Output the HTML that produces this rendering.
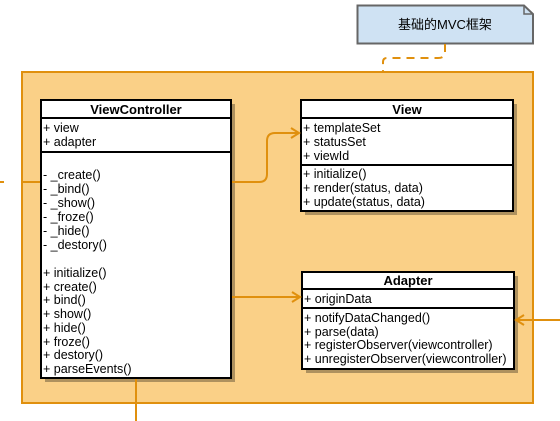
<!DOCTYPE html>
<html><head><meta charset="utf-8"><style>
html,body{margin:0;padding:0;background:#fff;}
svg{display:block;}
text{font-family:"Liberation Sans","Noto Sans CJK SC",sans-serif;font-size:12.5px;fill:#000;}
.h{font-weight:bold;font-size:13px;}
</style></head><body>
<svg width="560" height="421" viewBox="0 0 560 421" xmlns="http://www.w3.org/2000/svg">
<path d="M357.5 5.5 H524 L533 14 V43.5 H357.5 Z" fill="#cfe2f3" stroke="#666" stroke-width="2"/>
<path d="M524 5.5 V14 H533" fill="none" stroke="#666" stroke-width="1.5"/>
<text x="445" y="29" text-anchor="middle" style="font-size:13px">基础的MVC框架</text>
<path d="M445 44 V52 Q445 58 438 58 H387 Q383 58 383 62 V72" fill="none" stroke="#e0900e" stroke-width="2" stroke-dasharray="8,6"/>
<rect x="22" y="72" width="511" height="331" fill="#fad087" stroke="#e0900e" stroke-width="2"/>
<g fill="#000" opacity="0.3">
<rect x="45" y="104" width="190" height="278"/>
<rect x="305" y="104" width="212" height="111"/>
<rect x="306" y="276" width="212" height="97"/>
</g>
<rect x="41" y="100" width="190" height="278" fill="#fff" stroke="#000" stroke-width="2"/>
<line x1="41" y1="118" x2="231" y2="118" stroke="#000" stroke-width="2"/>
<line x1="41" y1="152" x2="231" y2="152" stroke="#000" stroke-width="2"/>
<text class="h" x="136" y="114" text-anchor="middle">ViewController</text>
<g>
<text x="43" y="132">+ view</text>
<text x="43" y="146">+ adapter</text>
<text x="43" y="179">- _create()</text>
<text x="43" y="193">- _bind()</text>
<text x="43" y="207">- _show()</text>
<text x="43" y="221">- _froze()</text>
<text x="43" y="235">- _hide()</text>
<text x="43" y="249">- _destory()</text>
<text x="43" y="277">+ initialize()</text>
<text x="43" y="291">+ create()</text>
<text x="43" y="304">+ bind()</text>
<text x="43" y="318">+ show()</text>
<text x="43" y="332">+ hide()</text>
<text x="43" y="346">+ froze()</text>
<text x="43" y="359">+ destory()</text>
<text x="43" y="373">+ parseEvents()</text>
</g>
<rect x="301" y="100" width="212" height="111" fill="#fff" stroke="#000" stroke-width="2"/>
<line x1="301" y1="118" x2="513" y2="118" stroke="#000" stroke-width="2"/>
<line x1="301" y1="165" x2="513" y2="165" stroke="#000" stroke-width="2"/>
<text class="h" x="407" y="114" text-anchor="middle">View</text>
<text x="303" y="132">+ templateSet</text>
<text x="303" y="146">+ statusSet</text>
<text x="303" y="160">+ viewId</text>
<text x="303" y="178">+ initialize()</text>
<text x="303" y="192">+ render(status, data)</text>
<text x="303" y="206">+ update(status, data)</text>
<rect x="302" y="272" width="212" height="97" fill="#fff" stroke="#000" stroke-width="2"/>
<line x1="302" y1="289" x2="514" y2="289" stroke="#000" stroke-width="2"/>
<line x1="302" y1="308" x2="514" y2="308" stroke="#000" stroke-width="2"/>
<text class="h" x="408" y="285" text-anchor="middle">Adapter</text>
<text x="304" y="303">+ originData</text>
<text x="304" y="322">+ notifyDataChanged()</text>
<text x="304" y="336">+ parse(data)</text>
<text x="304" y="349">+ registerObserver(viewcontroller)</text>
<text x="304" y="363">+ unregisterObserver(viewcontroller)</text>
<g fill="none" stroke="#e0900e" stroke-width="2">
<path d="M0 182 H4 M21 182 H40"/>
<path d="M232 182 H259 Q267 182 267 174 V141 Q267 133 275 133 H299"/>
<path d="M291 128 L299 133 L291 138"/>
<path d="M232 297 H300"/>
<path d="M292 292 L300 297 L292 302"/>
<path d="M560 320 H516"/>
<path d="M524 315 L516 320 L524 325"/>
<path d="M136 379 V421"/>
</g>
</svg>
</body></html>
